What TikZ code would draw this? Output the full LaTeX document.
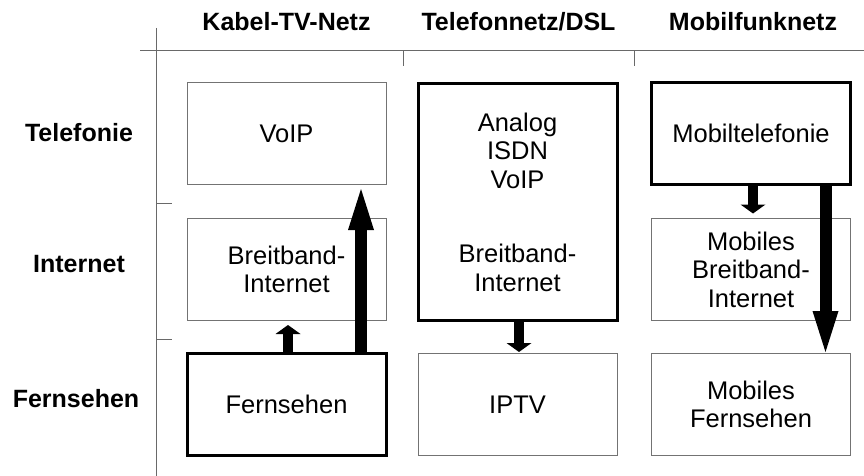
\documentclass[tikz,border=0pt]{standalone}
\usepackage{fontspec}
\setmainfont{Liberation Sans}
\usetikzlibrary{arrows.meta}
\definecolor{axisgray}{RGB}{105,105,105}
\definecolor{boxgray}{RGB}{115,115,115}

\begin{document}
\begin{tikzpicture}[x=1pt,y=-1pt,
  font=\fontsize{25.5}{28.5}\selectfont,
  cell/.style={draw=boxgray, line width=1pt, minimum width=199pt,
    minimum height=102pt, align=center, inner sep=0pt},
  mainnet/.style={cell, draw=black, line width=3pt},
  head/.style={font=\fontsize{25}{28}\selectfont\bfseries, anchor=base},
  axis/.style={draw=axisgray, line width=1pt},
  smallarrow/.style={line width=10pt,
    -{Triangle[length=9pt,width=25pt,line width=0pt]}},
  bigarrow/.style={line width=12pt,
    -{Triangle[length=41pt,width=26pt,line width=0pt]}}
]
\useasboundingbox (0,0) rectangle (864,476);

% axes
\draw[axis] (156,28) -- (156,476);
\draw[axis] (140,51) -- (864,51);
\draw[axis] (403,51) -- (403,66);
\draw[axis] (634.5,51) -- (634.5,66);
\draw[axis] (156,203) -- (172,203);
\draw[axis] (156,339) -- (172,339);

% column and row titles
\node[head] (hkabel) at (286.5,31) {Kabel-TV-Netz};
\node[head] (htel) at (518.5,31) {Telefonnetz/DSL};
\node[head] (hmobil) at (753,31) {Mobilfunknetz};
\node[head] (rtel) at (79,141.5) {Telefonie};
\node[head] (rinet) at (79,272) {Internet};
\node[head] (rfern) at (76,407.5) {Fernsehen};

% Kabel-TV-Netz
\node[cell] (kvoip) at (286.5,133.5) {VoIP};
\node[cell] (kinet) at (286.5,269.5) {Breitband-\\Internet};
\node[mainnet] (kfern) at (286.5,404.5) {Fernsehen};

% Telefonnetz/DSL
\node[mainnet, minimum height=236pt] (tbig) at (517.5,202)
  {Analog\\ISDN\\VoIP\\[46pt]Breitband-\\Internet};
\node[cell] (tiptv) at (517.5,404.5) {IPTV};

% Mobilfunknetz
\node[mainnet] (mtel) at (751,133.5) {Mobiltelefonie};
\node[cell] (minet) at (751,269.5) {Mobiles\\Breitband-\\Internet};
\node[cell] (mfern) at (751,404.5) {Mobiles\\Fernsehen};

% arrows
\draw[smallarrow, shorten >=4pt] ([xshift=1.5pt]kfern.north) -- ([xshift=1.5pt]kinet.south);
\draw[bigarrow, shorten >=4pt] ([xshift=74.5pt]kfern.north) -- ([xshift=74.5pt]kvoip.south);
\draw[smallarrow, shorten >=1pt] ([xshift=1.5pt]tbig.south) -- ([xshift=1.5pt]tiptv.north);
\draw[smallarrow, shorten >=4.5pt] ([xshift=2pt]mtel.south) -- ([xshift=2pt]minet.north);
\draw[bigarrow, shorten >=1pt] ([xshift=74.5pt]mtel.south) -- ([xshift=74.5pt]mfern.north);
\end{tikzpicture}
\end{document}
